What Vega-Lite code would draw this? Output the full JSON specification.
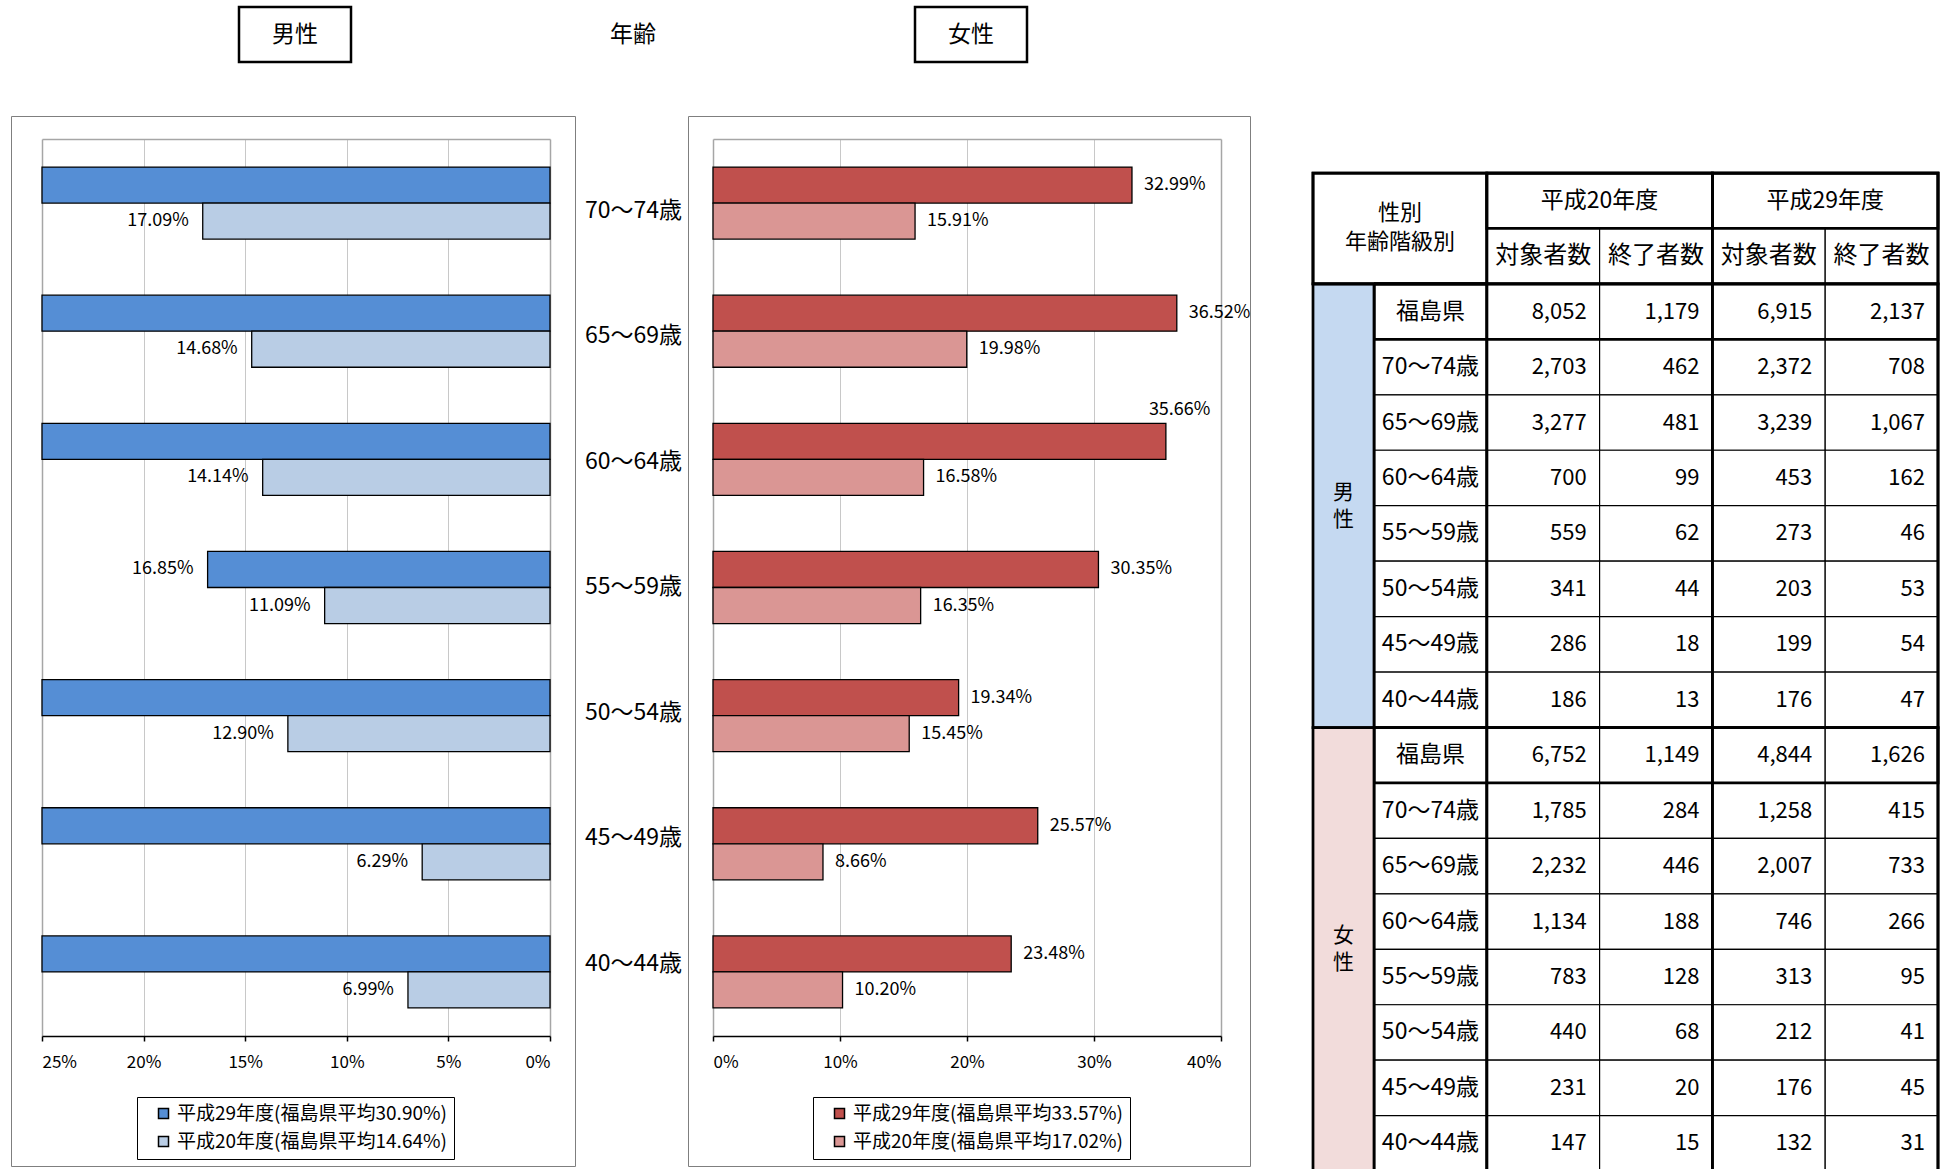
{
  "$schema": "https://vega.github.io/schema/vega-lite/v6.json",
  "padding": {"left": 10, "top": 0, "right": 0, "bottom": 0},
  "autosize": {"type": "pad"},
  "background": "#ffffff",
  "config": {"view": {"stroke": null}, "concat": {"spacing": 0}, "font": "Noto Sans CJK JP", "text": {"color": "#000000"}},
  "datasets": {
    "titles": [{"title": "男性"}, {"title": "年齢"}, {"title": "女性"}],
    "ages": [{"age": "70～74歳"}, {"age": "65～69歳"}, {"age": "60～64歳"}, {"age": "55～59歳"}, {"age": "50～54歳"}, {"age": "45～49歳"}, {"age": "40～44歳"}],
    "male": [
      {"age": "70～74歳", "series": "平成29年度(福島県平均30.90%)", "rate": 29.85},
      {"age": "70～74歳", "series": "平成20年度(福島県平均14.64%)", "rate": 17.09},
      {"age": "65～69歳", "series": "平成29年度(福島県平均30.90%)", "rate": 32.94},
      {"age": "65～69歳", "series": "平成20年度(福島県平均14.64%)", "rate": 14.68},
      {"age": "60～64歳", "series": "平成29年度(福島県平均30.90%)", "rate": 35.76},
      {"age": "60～64歳", "series": "平成20年度(福島県平均14.64%)", "rate": 14.14},
      {"age": "55～59歳", "series": "平成29年度(福島県平均30.90%)", "rate": 16.85},
      {"age": "55～59歳", "series": "平成20年度(福島県平均14.64%)", "rate": 11.09},
      {"age": "50～54歳", "series": "平成29年度(福島県平均30.90%)", "rate": 26.11},
      {"age": "50～54歳", "series": "平成20年度(福島県平均14.64%)", "rate": 12.90},
      {"age": "45～49歳", "series": "平成29年度(福島県平均30.90%)", "rate": 27.14},
      {"age": "45～49歳", "series": "平成20年度(福島県平均14.64%)", "rate": 6.29},
      {"age": "40～44歳", "series": "平成29年度(福島県平均30.90%)", "rate": 26.70},
      {"age": "40～44歳", "series": "平成20年度(福島県平均14.64%)", "rate": 6.99}
    ],
    "female": [
      {"age": "70～74歳", "series": "平成29年度(福島県平均33.57%)", "rate": 32.99},
      {"age": "70～74歳", "series": "平成20年度(福島県平均17.02%)", "rate": 15.91},
      {"age": "65～69歳", "series": "平成29年度(福島県平均33.57%)", "rate": 36.52},
      {"age": "65～69歳", "series": "平成20年度(福島県平均17.02%)", "rate": 19.98},
      {"age": "60～64歳", "series": "平成29年度(福島県平均33.57%)", "rate": 35.66},
      {"age": "60～64歳", "series": "平成20年度(福島県平均17.02%)", "rate": 16.58},
      {"age": "55～59歳", "series": "平成29年度(福島県平均33.57%)", "rate": 30.35},
      {"age": "55～59歳", "series": "平成20年度(福島県平均17.02%)", "rate": 16.35},
      {"age": "50～54歳", "series": "平成29年度(福島県平均33.57%)", "rate": 19.34},
      {"age": "50～54歳", "series": "平成20年度(福島県平均17.02%)", "rate": 15.45},
      {"age": "45～49歳", "series": "平成29年度(福島県平均33.57%)", "rate": 25.57},
      {"age": "45～49歳", "series": "平成20年度(福島県平均17.02%)", "rate": 8.66},
      {"age": "40～44歳", "series": "平成29年度(福島県平均33.57%)", "rate": 23.48},
      {"age": "40～44歳", "series": "平成20年度(福島県平均17.02%)", "rate": 10.20}
    ],
    "tableSex": [{"sex": "男性"}, {"sex": "女性"}],
    "tableRows": [
      {"row": "男性・福島県", "sex": "男性", "age": "福島県", "h20_target": 8052, "h20_done": 1179, "h29_target": 6915, "h29_done": 2137},
      {"row": "男性・70～74歳", "sex": "男性", "age": "70～74歳", "h20_target": 2703, "h20_done": 462, "h29_target": 2372, "h29_done": 708},
      {"row": "男性・65～69歳", "sex": "男性", "age": "65～69歳", "h20_target": 3277, "h20_done": 481, "h29_target": 3239, "h29_done": 1067},
      {"row": "男性・60～64歳", "sex": "男性", "age": "60～64歳", "h20_target": 700, "h20_done": 99, "h29_target": 453, "h29_done": 162},
      {"row": "男性・55～59歳", "sex": "男性", "age": "55～59歳", "h20_target": 559, "h20_done": 62, "h29_target": 273, "h29_done": 46},
      {"row": "男性・50～54歳", "sex": "男性", "age": "50～54歳", "h20_target": 341, "h20_done": 44, "h29_target": 203, "h29_done": 53},
      {"row": "男性・45～49歳", "sex": "男性", "age": "45～49歳", "h20_target": 286, "h20_done": 18, "h29_target": 199, "h29_done": 54},
      {"row": "男性・40～44歳", "sex": "男性", "age": "40～44歳", "h20_target": 186, "h20_done": 13, "h29_target": 176, "h29_done": 47},
      {"row": "女性・福島県", "sex": "女性", "age": "福島県", "h20_target": 6752, "h20_done": 1149, "h29_target": 4844, "h29_done": 1626},
      {"row": "女性・70～74歳", "sex": "女性", "age": "70～74歳", "h20_target": 1785, "h20_done": 284, "h29_target": 1258, "h29_done": 415},
      {"row": "女性・65～69歳", "sex": "女性", "age": "65～69歳", "h20_target": 2232, "h20_done": 446, "h29_target": 2007, "h29_done": 733},
      {"row": "女性・60～64歳", "sex": "女性", "age": "60～64歳", "h20_target": 1134, "h20_done": 188, "h29_target": 746, "h29_done": 266},
      {"row": "女性・55～59歳", "sex": "女性", "age": "55～59歳", "h20_target": 783, "h20_done": 128, "h29_target": 313, "h29_done": 95},
      {"row": "女性・50～54歳", "sex": "女性", "age": "50～54歳", "h20_target": 440, "h20_done": 68, "h29_target": 212, "h29_done": 41},
      {"row": "女性・45～49歳", "sex": "女性", "age": "45～49歳", "h20_target": 231, "h20_done": 20, "h29_target": 176, "h29_done": 45},
      {"row": "女性・40～44歳", "sex": "女性", "age": "40～44歳", "h20_target": 147, "h20_done": 15, "h29_target": 132, "h29_done": 31}
    ],
    "tableHeader": [
      {"c0": "age", "c1": "age", "r0": "hdr1", "r1": "hdr2", "label": "性別"},
      {"c0": "age", "c1": "age", "r0": "hdr1", "r1": "hdr2", "label": "年齢階級別"},
      {"c0": "h20_target", "c1": "h20_done", "r0": "hdr1", "r1": "hdr1", "label": "平成20年度"},
      {"c0": "h29_target", "c1": "h29_done", "r0": "hdr1", "r1": "hdr1", "label": "平成29年度"},
      {"c0": "h20_target", "c1": "h20_target", "r0": "hdr2", "r1": "hdr2", "label": "対象者数"},
      {"c0": "h20_done", "c1": "h20_done", "r0": "hdr2", "r1": "hdr2", "label": "終了者数"},
      {"c0": "h29_target", "c1": "h29_target", "r0": "hdr2", "r1": "hdr2", "label": "対象者数"},
      {"c0": "h29_done", "c1": "h29_done", "r0": "hdr2", "r1": "hdr2", "label": "終了者数"}
    ],
    "tableFrames": [
      {"c0": "age", "c1": "h29_done", "r0": "hdr1", "r1": "hdr2"},
      {"c0": "age", "c1": "age", "r0": "hdr1", "r1": "hdr2"},
      {"c0": "h20_target", "c1": "h20_done", "r0": "hdr1", "r1": "女性・40～44歳"},
      {"c0": "h29_target", "c1": "h29_done", "r0": "hdr1", "r1": "女性・40～44歳"},
      {"c0": "h20_target", "c1": "h20_done", "r0": "hdr1", "r1": "hdr1"},
      {"c0": "h29_target", "c1": "h29_done", "r0": "hdr1", "r1": "hdr1"},
      {"c0": "age", "c1": "h29_done", "r0": "男性・福島県", "r1": "男性・40～44歳"},
      {"c0": "age", "c1": "h29_done", "r0": "女性・福島県", "r1": "女性・40～44歳"},
      {"c0": "age", "c1": "h29_done", "r0": "男性・福島県", "r1": "男性・福島県"},
      {"c0": "age", "c1": "h29_done", "r0": "女性・福島県", "r1": "女性・福島県"},
      {"c0": "age", "c1": "age", "r0": "男性・福島県", "r1": "女性・40～44歳"}
    ]
  },
  "spacing": 47,
  "bounds": "flush",
  "resolve": {"scale": {"x": "independent", "y": "independent"}, "axis": {"x": "independent", "y": "independent"}},
  "vconcat": [
    {
      "width": 1240,
      "height": 69,
      "data": {"name": "titles"},
      "layer": [
        {
          "transform": [{"filter": "datum.title !== '年齢'"}],
          "mark": {"type": "point", "shape": "M-1,-0.491L1,-0.491L1,0.491L-1,0.491Z", "size": 12544, "filled": false, "stroke": "#000000", "strokeWidth": 2.5, "opacity": 1},
          "encoding": {
            "x": {"field": "title", "type": "nominal", "scale": {"type": "point", "domain": ["男性", "年齢", "女性"], "range": [284, 960], "padding": 0}, "axis": null}
          }
        },
        {
          "mark": {"type": "text", "fontSize": 23, "font": "Noto Sans CJK JP", "color": "#000000"},
          "encoding": {
            "x": {"field": "title", "type": "nominal", "scale": {"type": "point", "domain": ["男性", "年齢", "女性"], "range": [284, 960], "padding": 0}, "axis": null},
            "text": {"field": "title"}
          }
        }
      ]
    },
    {
      "spacing": 0,
      "bounds": "flush",
      "resolve": {
        "scale": {"x": "independent", "y": "independent", "yOffset": "independent", "color": "independent", "fill": "independent"},
        "axis": {"x": "independent", "y": "independent"},
        "legend": {"color": "independent", "fill": "independent"}
      },
      "hconcat": [
        {
          "width": 564,
          "height": 1050,
          "view": {"stroke": "#7f7f7f", "strokeWidth": 1},
          "data": {"name": "male"},
          "layer": [
            {
              "mark": {"type": "bar", "stroke": "#000000", "strokeWidth": 1.3},
              "encoding": {
                "y": {"field": "age", "type": "nominal", "scale": {"domain": ["70～74歳", "65～69歳", "60～64歳", "55～59歳", "50～54歳", "45～49歳", "40～44歳"], "range": [23, 920], "paddingInner": 0.4375, "paddingOuter": 0.21875}, "axis": null},
                "yOffset": {"field": "series", "type": "nominal", "scale": {"domain": ["平成29年度(福島県平均30.90%)", "平成20年度(福島県平均14.64%)"], "paddingInner": 0, "paddingOuter": 0}},
                "x": {"field": "rate", "type": "quantitative", "scale": {"domain": [0, 25], "range": [539, 31], "clamp": true, "nice": false, "zero": true},
                  "axis": {"orient": "bottom", "offset": -130, "values": [0, 5, 10, 15, 20, 25], "labelExpr": "datum.value + '%'", "title": null, "grid": false, "domainColor": "#000000", "domainWidth": 1.5, "tickColor": "#000000", "tickWidth": 1.5, "tickSize": 5, "labelFont": "Noto Sans CJK JP", "labelFontSize": 17, "labelColor": "#000000", "labelPadding": 13}},
                "color": {"field": "series", "type": "nominal", "scale": {"domain": ["平成29年度(福島県平均30.90%)", "平成20年度(福島県平均14.64%)"], "range": ["#558ED5", "#B9CDE5"]},
                  "legend": {"orient": "none", "legendX": 126, "legendY": 981, "title": null, "padding": 7, "strokeColor": "#000000", "fillColor": "#ffffff", "symbolType": "square", "symbolSize": 100, "symbolStrokeColor": "#000000", "symbolStrokeWidth": 1.5, "labelFont": "Noto Sans CJK JP", "labelFontSize": 19, "labelColor": "#000000", "rowPadding": 8, "symbolOffset": 10, "labelOffset": 4, "labelLimit": 400}}
              }
            },
            {
              "transform": [{"filter": "datum.rate <= 25"}],
              "mark": {"type": "text", "align": "right", "dx": -14, "baseline": "middle", "font": "Noto Sans CJK JP", "fontSize": 18, "color": "#000000", "text": {"expr": "format(datum.rate, '.2f') + '%'"}},
              "encoding": {
                "y": {"field": "age", "type": "nominal", "scale": {"domain": ["70～74歳", "65～69歳", "60～64歳", "55～59歳", "50～54歳", "45～49歳", "40～44歳"], "range": [23, 920], "paddingInner": 0.4375, "paddingOuter": 0.21875}, "axis": null},
                "yOffset": {"field": "series", "type": "nominal", "scale": {"domain": ["平成29年度(福島県平均30.90%)", "平成20年度(福島県平均14.64%)"], "paddingInner": 0, "paddingOuter": 0}},
                "x": {"field": "rate", "type": "quantitative", "scale": {"domain": [0, 25], "range": [539, 31], "nice": false, "zero": true},
                  "axis": {"orient": "top", "offset": -23, "values": [0, 5, 10, 15, 20, 25], "labels": false, "ticks": false, "title": null, "domainColor": "#a6a6a6", "domainWidth": 1.5, "grid": true,
                    "gridColor": {"condition": {"test": "datum.value === 0 || datum.value === 25", "value": "#a6a6a6"}, "value": "#c8c8c8"},
                    "gridWidth": {"condition": {"test": "datum.value === 0 || datum.value === 25", "value": 1.5}, "value": 1}}}
              }
            }
          ],
          "resolve": {"scale": {"x": "independent"}}
        },
        {
          "width": 113,
          "height": 1050,
          "data": {"name": "ages"},
          "mark": {"type": "text", "align": "center", "baseline": "middle", "dx": 2, "font": "Noto Sans CJK JP", "fontSize": 23, "color": "#000000"},
          "encoding": {
            "y": {"field": "age", "type": "nominal", "scale": {"type": "point", "domain": ["70～74歳", "65～69歳", "60～64歳", "55～59歳", "50～54歳", "45～49歳", "40～44歳"], "range": [94.5, 847.5], "padding": 0}, "axis": null},
            "text": {"field": "age"}
          }
        },
        {
          "width": 562,
          "height": 1050,
          "view": {"stroke": "#7f7f7f", "strokeWidth": 1},
          "data": {"name": "female"},
          "layer": [
            {
              "mark": {"type": "bar", "stroke": "#000000", "strokeWidth": 1.3},
              "encoding": {
                "y": {"field": "age", "type": "nominal", "scale": {"domain": ["70～74歳", "65～69歳", "60～64歳", "55～59歳", "50～54歳", "45～49歳", "40～44歳"], "range": [23, 920], "paddingInner": 0.4375, "paddingOuter": 0.21875}, "axis": null},
                "yOffset": {"field": "series", "type": "nominal", "scale": {"domain": ["平成29年度(福島県平均33.57%)", "平成20年度(福島県平均17.02%)"], "paddingInner": 0, "paddingOuter": 0}},
                "x": {"field": "rate", "type": "quantitative", "scale": {"domain": [0, 40], "range": [25, 533], "nice": false, "zero": true},
                  "axis": {"orient": "bottom", "offset": -130, "values": [0, 10, 20, 30, 40], "labelExpr": "datum.value + '%'", "title": null, "grid": false, "domainColor": "#000000", "domainWidth": 1.5, "tickColor": "#000000", "tickWidth": 1.5, "tickSize": 5, "labelFont": "Noto Sans CJK JP", "labelFontSize": 17, "labelColor": "#000000", "labelPadding": 13}},
                "color": {"field": "series", "type": "nominal", "scale": {"domain": ["平成29年度(福島県平均33.57%)", "平成20年度(福島県平均17.02%)"], "range": ["#C0504D", "#DA9694"]},
                  "legend": {"orient": "none", "legendX": 125, "legendY": 981, "title": null, "padding": 7, "strokeColor": "#000000", "fillColor": "#ffffff", "symbolType": "square", "symbolSize": 100, "symbolStrokeColor": "#000000", "symbolStrokeWidth": 1.5, "labelFont": "Noto Sans CJK JP", "labelFontSize": 19, "labelColor": "#000000", "rowPadding": 8, "symbolOffset": 10, "labelOffset": 4, "labelLimit": 400}}
              }
            },
            {
              "transform": [{"filter": "!(datum.age === '60～64歳' && datum.rate > 30)"}],
              "mark": {"type": "text", "align": "left", "dx": 12, "baseline": "middle", "font": "Noto Sans CJK JP", "fontSize": 18, "color": "#000000", "text": {"expr": "format(datum.rate, '.2f') + '%'"}},
              "encoding": {
                "y": {"field": "age", "type": "nominal", "scale": {"domain": ["70～74歳", "65～69歳", "60～64歳", "55～59歳", "50～54歳", "45～49歳", "40～44歳"], "range": [23, 920], "paddingInner": 0.4375, "paddingOuter": 0.21875}, "axis": null},
                "yOffset": {"field": "series", "type": "nominal", "scale": {"domain": ["平成29年度(福島県平均33.57%)", "平成20年度(福島県平均17.02%)"], "paddingInner": 0, "paddingOuter": 0}},
                "x": {"field": "rate", "type": "quantitative", "scale": {"domain": [0, 40], "range": [25, 533], "nice": false, "zero": true},
                  "axis": {"orient": "top", "offset": -23, "values": [0, 10, 20, 30, 40], "labels": false, "ticks": false, "title": null, "domainColor": "#a6a6a6", "domainWidth": 1.5, "grid": true,
                    "gridColor": {"condition": {"test": "datum.value === 0 || datum.value === 40", "value": "#a6a6a6"}, "value": "#c8c8c8"},
                    "gridWidth": {"condition": {"test": "datum.value === 0 || datum.value === 40", "value": 1.5}, "value": 1}}}
              }
            },
            {
              "transform": [{"filter": "datum.age === '60～64歳' && datum.rate > 30"}],
              "mark": {"type": "text", "align": "left", "dx": -17, "dy": -31, "baseline": "middle", "font": "Noto Sans CJK JP", "fontSize": 18, "color": "#000000", "text": {"expr": "format(datum.rate, '.2f') + '%'"}},
              "encoding": {
                "y": {"field": "age", "type": "nominal", "scale": {"domain": ["70～74歳", "65～69歳", "60～64歳", "55～59歳", "50～54歳", "45～49歳", "40～44歳"], "range": [23, 920], "paddingInner": 0.4375, "paddingOuter": 0.21875}, "axis": null},
                "yOffset": {"field": "series", "type": "nominal", "scale": {"domain": ["平成29年度(福島県平均33.57%)", "平成20年度(福島県平均17.02%)"], "paddingInner": 0, "paddingOuter": 0}},
                "x": {"field": "rate", "type": "quantitative", "scale": {"domain": [0, 40], "range": [25, 533], "nice": false, "zero": true}, "axis": null}
              }
            }
          ],
          "resolve": {"scale": {"x": "independent"}}
        },
        {
          "width": 61,
          "height": 10,
          "data": {"values": []},
          "mark": {"type": "text"},
          "encoding": {}
        },
        {
          "width": 63,
          "height": 1053,
          "data": {"name": "tableSex"},
          "layer": [
            {
              "mark": {"type": "rect", "stroke": "#000000", "strokeWidth": 2.75, "clip": true},
              "encoding": {
                "x": {"datum": "性別", "type": "nominal", "scale": {"domain": ["性別"], "range": [2, 63], "paddingInner": 0, "paddingOuter": 0}, "axis": null},
                "y": {"field": "sex", "type": "nominal", "scale": {"domain": ["男性", "女性"], "range": [167.9, 1055.1], "paddingInner": 0, "paddingOuter": 0}, "axis": null},
                "fill": {"field": "sex", "type": "nominal", "scale": {"domain": ["男性", "女性"], "range": ["#C5D9F1", "#F2DCDB"]}, "legend": null}
              }
            },
            {
              "mark": {"type": "text", "font": "Noto Sans CJK JP", "fontSize": 21, "dy": -13, "color": "#000000", "clip": true, "text": {"expr": "slice(datum.sex, 0, 1)"}},
              "encoding": {
                "x": {"datum": "性別", "type": "nominal", "scale": {"domain": ["性別"], "range": [2, 63], "paddingInner": 0, "paddingOuter": 0}, "axis": null},
                "y": {"field": "sex", "type": "nominal", "scale": {"domain": ["男性", "女性"], "range": [167.9, 1055.1], "paddingInner": 0, "paddingOuter": 0}, "axis": null}
              }
            },
            {
              "mark": {"type": "text", "font": "Noto Sans CJK JP", "fontSize": 21, "dy": 14, "color": "#000000", "clip": true, "text": {"expr": "slice(datum.sex, 1, 2)"}},
              "encoding": {
                "x": {"datum": "性別", "type": "nominal", "scale": {"domain": ["性別"], "range": [2, 63], "paddingInner": 0, "paddingOuter": 0}, "axis": null},
                "y": {"field": "sex", "type": "nominal", "scale": {"domain": ["男性", "女性"], "range": [167.9, 1055.1], "paddingInner": 0, "paddingOuter": 0}, "axis": null}
              }
            }
          ]
        },
        {
          "width": 566,
          "height": 1053,
          "layer": [
            {
              "data": {"name": "tableRows"},
              "transform": [{"fold": ["h20_target", "h20_done", "h29_target", "h29_done"], "as": ["col", "count"]}],
              "mark": {"type": "rect", "fill": "#ffffff", "stroke": "#000000", "strokeWidth": 1.2, "clip": true},
              "encoding": {
                "x": {"field": "col", "type": "nominal", "scale": {"domain": ["age", "h20_target", "h20_done", "h29_target", "h29_done"], "range": [0, 564], "paddingInner": 0, "paddingOuter": 0}, "axis": null},
                "y": {"field": "row", "type": "nominal", "scale": {"domain": ["hdr1", "hdr2", "男性・福島県", "男性・70～74歳", "男性・65～69歳", "男性・60～64歳", "男性・55～59歳", "男性・50～54歳", "男性・45～49歳", "男性・40～44歳", "女性・福島県", "女性・70～74歳", "女性・65～69歳", "女性・60～64歳", "女性・55～59歳", "女性・50～54歳", "女性・45～49歳", "女性・40～44歳"], "range": [57, 1055.1], "paddingInner": 0, "paddingOuter": 0}, "axis": null}
              }
            },
            {
              "data": {"name": "tableRows"},
              "mark": {"type": "rect", "fill": "#ffffff", "stroke": "#000000", "strokeWidth": 1.2, "clip": true},
              "encoding": {
                "x": {"datum": "age", "type": "nominal"},
                "y": {"field": "row", "type": "nominal"}
              }
            },
            {
              "data": {"name": "tableHeader"},
              "transform": [{"filter": "datum.c0 !== 'age'"}],
              "mark": {"type": "rect", "fill": "#ffffff", "stroke": "#000000", "strokeWidth": 1.2, "clip": true},
              "encoding": {
                "x": {"field": "c0", "type": "nominal", "bandPosition": 0},
                "x2": {"field": "c1", "bandPosition": 1},
                "y": {"field": "r0", "type": "nominal", "bandPosition": 0},
                "y2": {"field": "r1", "bandPosition": 1}
              }
            },
            {
              "data": {"name": "tableFrames"},
              "transform": [{"filter": "!(datum.c0 === 'age' && datum.r0 === 'hdr1')"}],
              "mark": {"type": "rect", "fill": "transparent", "stroke": "#000000", "strokeWidth": 2.75, "clip": true},
              "encoding": {
                "x": {"field": "c0", "type": "nominal", "bandPosition": 0},
                "x2": {"field": "c1", "bandPosition": 1},
                "y": {"field": "r0", "type": "nominal", "bandPosition": 0},
                "y2": {"field": "r1", "bandPosition": 1}
              }
            },
            {
              "data": {"name": "tableFrames"},
              "transform": [{"filter": "datum.c0 === 'age' && datum.r0 === 'hdr1'"}],
              "mark": {"type": "rect", "fill": "transparent", "stroke": "#000000", "strokeWidth": 2.75, "xOffset": -61},
              "encoding": {
                "x": {"field": "c0", "type": "nominal", "bandPosition": 0},
                "x2": {"field": "c1", "bandPosition": 1},
                "y": {"field": "r0", "type": "nominal", "bandPosition": 0},
                "y2": {"field": "r1", "bandPosition": 1}
              }
            },
            {
              "data": {"name": "tableRows"},
              "transform": [{"fold": ["h20_target", "h20_done", "h29_target", "h29_done"], "as": ["col", "count"]}],
              "mark": {"type": "text", "align": "right", "dx": -13, "baseline": "middle", "font": "Noto Sans CJK JP", "fontSize": 22, "color": "#000000", "clip": true},
              "encoding": {
                "x": {"field": "col", "type": "nominal", "bandPosition": 1},
                "y": {"field": "row", "type": "nominal"},
                "text": {"field": "count", "type": "quantitative", "format": ","}
              }
            },
            {
              "data": {"name": "tableRows"},
              "mark": {"type": "text", "align": "center", "baseline": "middle", "font": "Noto Sans CJK JP", "fontSize": 23, "color": "#000000", "clip": true},
              "encoding": {
                "x": {"datum": "age", "type": "nominal"},
                "y": {"field": "row", "type": "nominal"},
                "text": {"field": "age"}
              }
            },
            {
              "data": {"name": "tableHeader"},
              "transform": [{"filter": "datum.label === '性別'"}],
              "mark": {"type": "text", "align": "center", "baseline": "middle", "dx": 26, "dy": -15, "font": "Noto Sans CJK JP", "fontSize": 22, "color": "#000000"},
              "encoding": {
                "x": {"field": "c0", "type": "nominal", "bandPosition": 0},
                "y": {"field": "r1", "type": "nominal", "bandPosition": 0},
                "text": {"field": "label"}
              }
            },
            {
              "data": {"name": "tableHeader"},
              "transform": [{"filter": "datum.label === '年齢階級別'"}],
              "mark": {"type": "text", "align": "center", "baseline": "middle", "dx": 26, "dy": 14, "font": "Noto Sans CJK JP", "fontSize": 22, "color": "#000000"},
              "encoding": {
                "x": {"field": "c0", "type": "nominal", "bandPosition": 0},
                "y": {"field": "r1", "type": "nominal", "bandPosition": 0},
                "text": {"field": "label"}
              }
            },
            {
              "data": {"name": "tableHeader"},
              "transform": [{"filter": "datum.c0 !== 'age' && datum.c0 !== datum.c1"}],
              "mark": {"type": "text", "align": "center", "baseline": "middle", "font": "Noto Sans CJK JP", "fontSize": 23, "color": "#000000"},
              "encoding": {
                "x": {"field": "c1", "type": "nominal", "bandPosition": 0},
                "y": {"field": "r0", "type": "nominal"},
                "text": {"field": "label"}
              }
            },
            {
              "data": {"name": "tableHeader"},
              "transform": [{"filter": "datum.c0 !== 'age' && datum.c0 === datum.c1"}],
              "mark": {"type": "text", "align": "center", "baseline": "middle", "font": "Noto Sans CJK JP", "fontSize": 24, "color": "#000000"},
              "encoding": {
                "x": {"field": "c0", "type": "nominal"},
                "y": {"field": "r0", "type": "nominal"},
                "text": {"field": "label"}
              }
            }
          ]
        }
      ]
    }
  ]
}
